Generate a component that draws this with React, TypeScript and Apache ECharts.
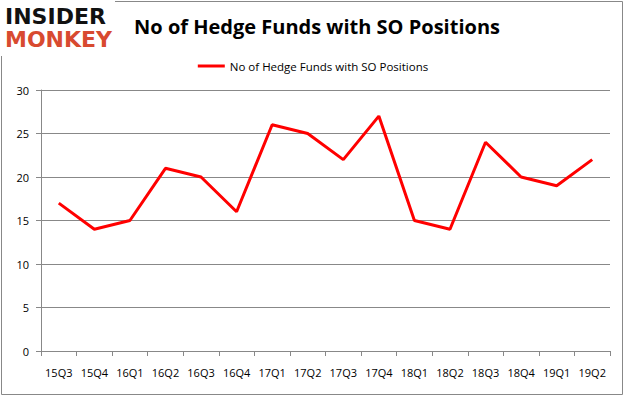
import React, { useEffect, useRef } from "react";
import * as echarts from "echarts";

const categories = ["15Q3","15Q4","16Q1","16Q2","16Q3","16Q4","17Q1","17Q2","17Q3","17Q4","18Q1","18Q2","18Q3","18Q4","19Q1","19Q2"];
const hedgeFunds = [17, 14, 15, 21, 20, 16, 26, 25, 22, 27, 15, 14, 24, 20, 19, 22];
const seriesName = "No of Hedge Funds with SO Positions";
const titleText = "No of Hedge Funds with SO Positions";

export default function App() {
  const ref = useRef<HTMLDivElement>(null);
  useEffect(() => {
    document.body.style.margin = "0";
    const chart = echarts.init(ref.current!, null, { renderer: "svg" });
    chart.setOption({
      animation: false,
      backgroundColor: "#ffffff",
      title: {
        text: titleText,
        left: 312,
        textAlign: "center",
        top: 11,
        textStyle: { fontFamily: "Open Sans", fontWeight: "bold", fontSize: 20, color: "#000" },
      },
      legend: {
        data: [seriesName],
        top: 55,
        left: "center",
        itemWidth: 27,
        itemHeight: 3,
        icon: "rect",
        itemGap: 4,
        textStyle: { fontFamily: "Open Sans", fontSize: 11.5, color: "#000" },
      },
      graphic: [
        {
          type: "rect",
          shape: { x: 1.5, y: 1.5, width: 621, height: 393 },
          style: { fill: "none", stroke: "#888", lineWidth: 1 },
          silent: true,
        },
        {
          type: "rect",
          shape: { x: 0, y: 0, width: 115, height: 56 },
          style: { fill: "#fff" },
          silent: true,
        },
        {
          type: "text",
          x: 5,
          y: 5,
          style: { text: "INSIDER", fontFamily: "DejaVu Sans", fontWeight: "bold", fontSize: 22, fill: "#111" },
          silent: true,
        },
        {
          type: "text",
          x: 5,
          y: 28,
          style: { text: "MONKEY", fontFamily: "DejaVu Sans", fontWeight: "bold", fontSize: 22, fill: "#d84a30" },
          silent: true,
        },
      ],
      grid: { left: 41, right: 16, top: 90, bottom: 46 },
      xAxis: {
        type: "category",
        data: categories,
        boundaryGap: true,
        axisLine: { lineStyle: { color: "#888" } },
        axisTick: { show: true, interval: 0, alignWithLabel: false, length: 5, lineStyle: { color: "#888" } },
        axisLabel: { interval: 0, margin: 16, fontFamily: "Open Sans", fontSize: 11, color: "#000" },
      },
      yAxis: {
        type: "value",
        min: 0,
        max: 30,
        interval: 5,
        axisLine: { show: true, lineStyle: { color: "#888" } },
        axisTick: { show: true, length: 5, lineStyle: { color: "#888" } },
        splitLine: { lineStyle: { color: "#888" } },
        axisLabel: { margin: 12, fontFamily: "Open Sans", fontSize: 11, color: "#000" },
      },
      series: [
        {
          name: seriesName,
          type: "line",
          data: hedgeFunds,
          symbol: "none",
          lineStyle: { color: "#ff0000", width: 3 },
          itemStyle: { color: "#ff0000" },
        },
      ],
    });
    return () => chart.dispose();
  }, []);
  return <div ref={ref} style={{ width: 626, height: 397 }} />;
}
